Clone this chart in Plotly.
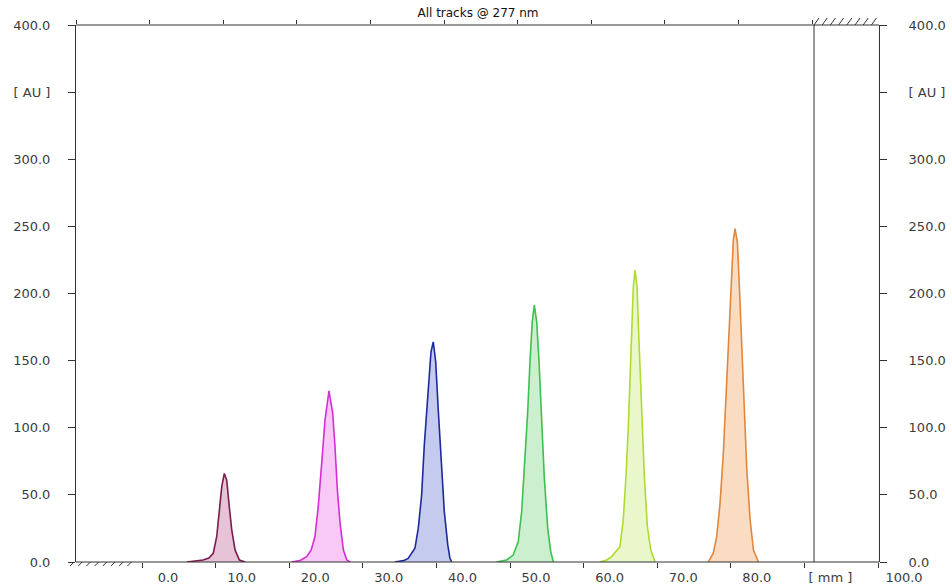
import plotly.graph_objects as go

# ---- densitogram data: position on plate [mm] vs absorbance [AU] ----
track1_mm = [2.55, 3.6, 4.75, 5.55, 6.15, 6.62, 6.97, 7.3, 7.65, 7.98, 8.33, 8.66, 9.11, 9.7, 10.48]
track1_au = [0, 0.6, 1.5, 3, 6.5, 19, 36, 56, 66, 61, 41, 24, 9, 1.5, 0]

track2_mm = [16.79, 17.9, 18.83, 19.45, 19.96, 20.41, 20.88, 21.33, 21.87, 22.38, 22.69, 23.01, 23.38, 23.83, 24.29, 24.74]
track2_au = [0, 1.0, 4, 9, 18.8, 41.2, 73.5, 105.8, 127.4, 110.8, 85.9, 53.6, 28.8, 8.9, 1.5, 0]

track3_mm = [30.82, 32.0, 32.63, 33.55, 34.0, 34.46, 34.82, 35.28, 35.73, 36.04, 36.37, 36.73, 37.09, 37.54, 38.01, 38.3, 38.55]
track3_au = [0, 1.0, 2.7, 10.2, 25, 49.9, 87, 124.4, 156.6, 164, 149.2, 112, 74.7, 37.5, 12.7, 3, 0]

track4_mm = [44.64, 46.0, 46.9, 47.58, 48.05, 48.5, 48.87, 49.18, 49.49, 49.77, 50.09, 50.41, 50.77, 51.13, 51.59, 52.0, 52.36]
track4_au = [0, 1.5, 5.2, 15.1, 37.5, 74.7, 112, 149.2, 179, 191.4, 179, 149.2, 104, 62.3, 25.1, 7.7, 0]

track5_mm = [58.68, 59.6, 60.27, 61.4, 61.85, 62.22, 62.54, 62.77, 63.04, 63.22, 63.45, 63.72, 64.0, 64.36, 64.72, 65.13, 65.59, 66.18]
track5_au = [0, 1.5, 4, 11.4, 31.3, 63.5, 100.8, 138, 175.3, 205, 217.5, 205, 162.9, 113.2, 63.5, 26.3, 8.9, 0]

track6_mm = [73.4, 74.08, 74.55, 75.0, 75.45, 75.77, 76.13, 76.5, 76.81, 77.04, 77.36, 77.63, 77.96, 78.31, 78.64, 79.09, 79.54, 80.22]
track6_au = [0, 6.5, 18.9, 43.7, 80.9, 118.2, 167.8, 205, 239.7, 248.4, 238.1, 205, 155.5, 105.8, 68.5, 31.3, 8.9, 0]

line_colors = ["#7b1b4f", "#d42ed4", "#1c2a9c", "#3dc04e", "#aedc2c", "#e0873e"]
fill_colors = ["#e6c3d6", "#f8c8f6", "#c5cbef", "#cbefcf", "#eaf7cb", "#fadcc2"]

# axis labelling
x_label_vals = [0, 10, 20, 30, 40, 50, 60, 70, 80, 90, 100]
x_label_text = ["0.0", "10.0", "20.0", "30.0", "40.0", "50.0", "60.0", "70.0", "80.0", "[ mm ]", "100.0"]
y_tick_vals = [0, 50, 100, 150, 200, 250, 300, 350, 400]
y_tick_text = ["0.0", "50.0", "100.0", "150.0", "200.0", "250.0", "300.0", "[ AU ]", "400.0"]
bottom_tick_vals = [-3.53 + 10 * k for k in range(11)]
top_tick_vals = [-12.5 + 10 * k for k in range(11)]

FRONT_MM = 87.77          # solvent front marker
X_MIN, X_MAX = -12.5, 101.49
SCAN_END_MM = 96.6        # right border of the scanned range

# ---- figure geometry ----
W, H = 952, 586
ML, MR, MT, MB = 76, 37, 25, 24
PLOT_W = W - ML - MR
PLOT_H = H - MT - MB
right_pos = (SCAN_END_MM - X_MIN) / (X_MAX - X_MIN)

AX = "#333333"
TXT = "#3c3c3c"
FONT = "DejaVu Sans"

fig = go.Figure()

tracks = [(track1_mm, track1_au), (track2_mm, track2_au), (track3_mm, track3_au),
          (track4_mm, track4_au), (track5_mm, track5_au), (track6_mm, track6_au)]
for i, (xs, ys) in enumerate(tracks):
    fig.add_trace(go.Scatter(
        x=xs, y=ys, mode="lines", fill="tozeroy",
        line=dict(color=line_colors[i], width=1.6),
        fillcolor=fill_colors[i], name=f"Track {i + 1}", showlegend=False,
    ))

# empty traces so the auxiliary tick axes and the right-hand AU axis are rendered
for xa, ya in (("x2", "y"), ("x3", "y"), ("x", "y2")):
    fig.add_trace(go.Scatter(x=[], y=[], xaxis=xa, yaxis=ya, mode="lines",
                             showlegend=False, hoverinfo="skip"))


def px_x(px):
    return (px - ML) / PLOT_W


def px_y(py):
    return (H - MB - py) / PLOT_H


shapes = []
# frame lines top and bottom
for yv in (0, 1):
    shapes.append(dict(type="line", xref="paper", yref="paper", x0=0, x1=right_pos,
                       y0=yv, y1=yv, line=dict(color=AX, width=1)))
# solvent front
shapes.append(dict(type="line", xref="x", yref="paper", x0=FRONT_MM, x1=FRONT_MM,
                   y0=0, y1=1, line=dict(color=AX, width=1)))
# hatched borders (outside of scanned range)
for k in range(8):
    bx = 70 + 8.2 * k
    shapes.append(dict(type="line", xref="paper", yref="paper",
                       x0=px_x(bx), x1=px_x(bx + 4), y0=px_y(566), y1=px_y(562),
                       line=dict(color=AX, width=1)))
    tx = 814 + 8.2 * k
    shapes.append(dict(type="line", xref="paper", yref="paper",
                       x0=px_x(tx), x1=px_x(tx + 5), y0=px_y(25), y1=px_y(18),
                       line=dict(color=AX, width=1)))

tick_font = dict(family=FONT, size=13, color=TXT)

fig.update_layout(
    width=W, height=H, autosize=False,
    margin=dict(l=ML, r=MR, t=MT, b=MB, pad=0, autoexpand=False),
    paper_bgcolor="white", plot_bgcolor="white",
    showlegend=False,
    title=dict(text="All tracks @ 277 nm", x=px_x(478), xref="paper", xanchor="center",
               y=1 - 13 / H, yref="container", yanchor="middle", automargin=False,
               font=dict(family=FONT, size=12, color="#111111")),
    shapes=shapes,
    xaxis=dict(range=[X_MIN, X_MAX], domain=[0, 1], showline=False, showgrid=False,
               zeroline=False, ticks="", tickmode="array", tickvals=x_label_vals,
               ticktext=x_label_text, tickfont=tick_font, ticklabelstandoff=6,
               automargin=False),
    xaxis2=dict(overlaying="x", matches="x", anchor="y", side="bottom", showline=False,
                showgrid=False, zeroline=False, ticks="outside", ticklen=5, tickcolor=AX,
                tickmode="array", tickvals=bottom_tick_vals, showticklabels=False,
                automargin=False),
    xaxis3=dict(overlaying="x", matches="x", anchor="y", side="top", showline=False,
                showgrid=False, zeroline=False, ticks="outside", ticklen=4, tickcolor=AX,
                tickmode="array", tickvals=top_tick_vals, showticklabels=False,
                automargin=False),
    yaxis=dict(range=[0, 400], showline=True, linecolor=AX, linewidth=1, showgrid=False,
               zeroline=False, ticks="outside", ticklen=7, tickcolor=AX,
               tickmode="array", tickvals=y_tick_vals, ticktext=y_tick_text,
               tickfont=tick_font, ticklabelstandoff=15, automargin=False),
    yaxis2=dict(overlaying="y", matches="y", anchor="free", position=right_pos, side="right",
                showline=True, linecolor=AX, linewidth=1, showgrid=False, zeroline=False,
                ticks="outside", ticklen=7, tickcolor=AX, tickmode="array",
                tickvals=y_tick_vals, ticktext=y_tick_text, tickfont=tick_font,
                ticklabelstandoff=19, automargin=False),
)

fig.write_html("out.html")
